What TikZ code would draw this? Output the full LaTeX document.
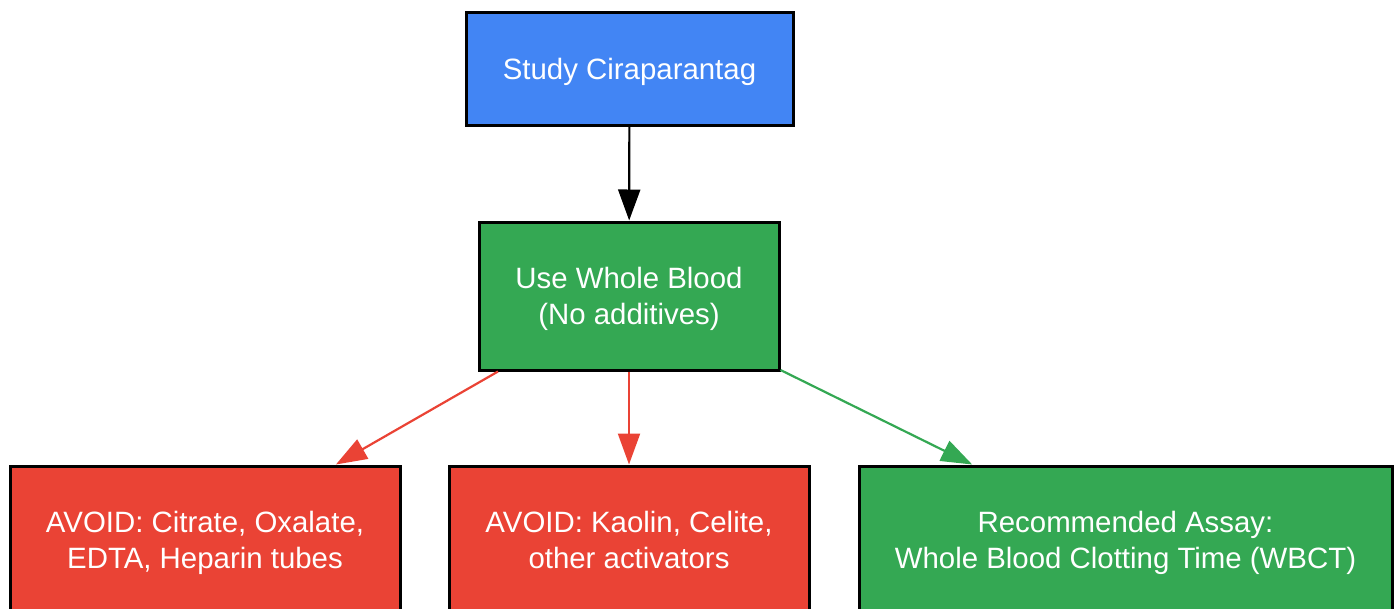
\documentclass[tikz,border=0pt]{standalone}
\usepackage{fontspec}
\setmainfont{Liberation Sans}
\usetikzlibrary{arrows.meta}
\definecolor{gblue}{HTML}{4285F4}
\definecolor{ggreen}{HTML}{34A853}
\definecolor{gred}{HTML}{EA4335}
\newcommand{\lbl}[1]{\raisebox{-3pt}[\height][\depth]{\begin{tabular}{@{}c@{}}#1\end{tabular}}}
\begin{document}
\begin{tikzpicture}[x=1pt,y=-1pt,
  box/.style={draw=black,line width=3pt,rectangle,inner sep=0pt,align=center,text=white,
    font=\fontsize{29.4pt}{36pt}\selectfont},
  conn/.style={line width=2.2pt,-{Triangle[length=31pt,width=22pt]}}]
\useasboundingbox (0,0) rectangle (1396,608);
\clip (0,0) rectangle (1396,608);
\node[box,fill=gblue,minimum width=327pt,minimum height=113pt] (study) at (629.5,69) {\lbl{Study Ciraparantag}};
\node[box,fill=ggreen,minimum width=300pt,minimum height=148pt] (blood) at (629,296) {\lbl{Use Whole Blood\\(No additives)}};
\node[box,fill=gred,minimum width=390pt,minimum height=148pt] (avoid1) at (205,540) {\lbl{AVOID: Citrate, Oxalate,\\EDTA, Heparin tubes}};
\node[box,fill=gred,minimum width=360pt,minimum height=148pt] (avoid2) at (629,540) {\lbl{AVOID: Kaolin, Celite,\\other activators}};
\node[box,fill=ggreen,minimum width=533pt,minimum height=148pt] (wbct) at (1125.5,540) {\lbl{Recommended Assay:\\Whole Blood Clotting Time (WBCT)}};
\draw[conn,black] (study) -- (blood);
\draw[conn,gred] (blood) -- (avoid1);
\draw[conn,gred] (blood) -- (avoid2);
\draw[conn,ggreen] (blood) -- (wbct);
\end{tikzpicture}
\end{document}
